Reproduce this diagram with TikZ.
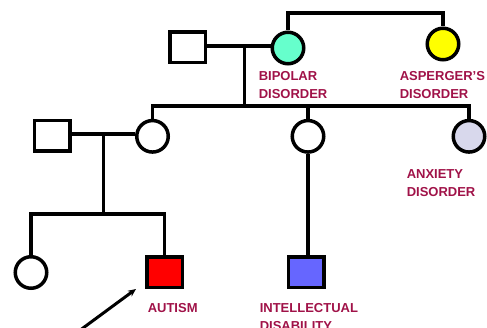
\documentclass[tikz,border=0pt]{standalone}
\usepackage{fontspec}
\setmainfont{Liberation Sans}
\usetikzlibrary{arrows.meta}
\definecolor{labelred}{RGB}{160,18,72}
\definecolor{bipolar}{RGB}{102,255,204}
\definecolor{asperger}{RGB}{255,255,0}
\definecolor{anxiety}{RGB}{216,216,236}
\definecolor{autism}{RGB}{255,0,0}
\definecolor{intell}{RGB}{102,102,255}
\begin{document}
\begin{tikzpicture}[x=1pt,y=-1pt,
  line width=3.5pt,
  male/.style={draw, rectangle, minimum width=35.5pt, minimum height=30.5pt, inner sep=0pt},
  female/.style={draw, circle, minimum size=31.5pt, inner sep=0pt},
  lbl/.style={text=labelred, font=\bfseries\fontsize{13}{17.5}\selectfont,
    align=left, anchor=north west, inner sep=0pt}]
\useasboundingbox (0,0) rectangle (487,328);

% generation I
\node[male] (gf) at (187.5,47.5) {};
\node[female, fill=bipolar] (gm) at (288,48) {};
\node[female, fill=asperger] (aunt) at (443,44) {};

% generation II
\node[male] (f) at (52,136) {};
\node[female] (m) at (152.5,136.3) {};
\node[female] (s2) at (308,136.3) {};
\node[female, fill=anxiety] (s3) at (469,136.3) {};

% generation III
\node[female] (d) at (31,272.5) {};
\node[male, fill=autism] (p) at (164.5,272.5) {};
\node[male, fill=intell] (n) at (306,272.5) {};

% helper points
\coordinate (top) at (0,13);
\coordinate (mar1) at (244.5,46);
\coordinate (sib1) at (244.5,106);
\coordinate (mar2) at (103.3,133.8);
\coordinate (sib2) at (103.3,214);

% sibling link between the two sisters
\draw (gm.north) -- (gm.north |- top) -- (aunt.north |- top) -- (aunt.north);

% first couple and their children
\draw (gf.east |- mar1) -- (gm.west |- mar1);
\draw (mar1) -- (sib1);
\draw (m.north) -- (m.north |- sib1) -- (s3.north |- sib1) -- (s3.north);
\draw (s2.north) -- (s2.north |- sib1);

% second couple and their children
\draw (f.east |- mar2) -- (m.west |- mar2);
\draw (mar2) -- (sib2);
\draw (d.north) -- (d.north |- sib2) -- (p.north |- sib2) -- (p.north);

% nephew below the second sister
\draw (s2.south) -- (s2.south |- n.north);

% proband arrow
\coordinate (arrstart) at (70,337.6);
\coordinate (arrtip) at (136,289);
\draw[-{Stealth[length=8pt,width=7pt]}, line width=3pt] (arrstart) -- (arrtip);

% labels
\node[lbl] (lbip) at (257,70) {BIPOLAR\\DISORDER};
\node[lbl] (lasp) at (398,70) {ASPERGER’S\\DISORDER};
\node[lbl] (lanx) at (405,168) {ANXIETY\\DISORDER};
\node[lbl] (laut) at (146,302) {AUTISM};
\node[lbl] (lint) at (258,302) {INTELLECTUAL\\DISABILITY};
\end{tikzpicture}
\end{document}
